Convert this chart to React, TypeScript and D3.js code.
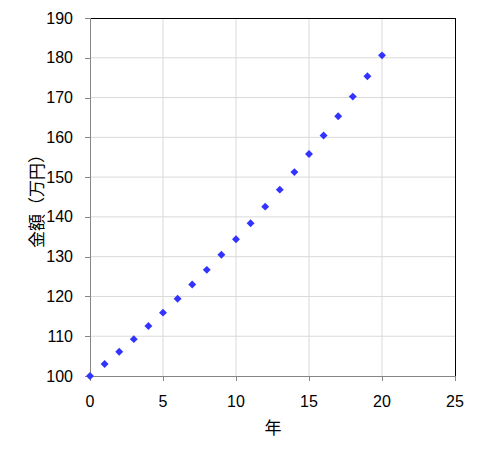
import React from "react";
import * as d3 from "d3";

const years = [0, 1, 2, 3, 4, 5, 6, 7, 8, 9, 10, 11, 12, 13, 14, 15, 16, 17, 18, 19, 20];
const amounts = [100, 103, 106.09, 109.27, 112.55, 115.93, 119.41, 122.99, 126.68, 130.48, 134.39, 138.42, 142.58, 146.85, 151.26, 155.8, 160.47, 165.28, 170.24, 175.35, 180.61];
const xTicks = [0, 5, 10, 15, 20, 25];
const yTicks = [100, 110, 120, 130, 140, 150, 160, 170, 180, 190];
const xTitle = "年";
const yTitle = "金額（万円）";

export default function App() {
  const W = 480, H = 456;
  const L = 90, R = 455, T = 18, B = 376;
  const x = d3.scaleLinear().domain([0, 25]).range([L, R]);
  const y = d3.scaleLinear().domain([100, 190]).range([B, T]);
  const font = "'Liberation Sans', 'DejaVu Sans', sans-serif";
  const diamond = d3.symbol().type(d3.symbolDiamond2).size(40)();
  return (
    <svg width={W} height={H} style={{ position: "absolute", left: 0, top: 0, background: "#fff" }}>
      <rect x={0} y={0} width={W} height={H} fill="#fff" />
      {xTicks.slice(1, -1).map((t) => (
        <line key={"gx" + t} x1={x(t)} x2={x(t)} y1={T} y2={B} stroke="#d9d9d9" strokeWidth={1} />
      ))}
      {yTicks.slice(1, -1).map((t) => (
        <line key={"gy" + t} x1={L} x2={R} y1={y(t)} y2={y(t)} stroke="#d9d9d9" strokeWidth={1} />
      ))}
      <line x1={L} x2={R} y1={T + 0.5} y2={T + 0.5} stroke="#000" />
      <line x1={R + 0.5} x2={R + 0.5} y1={T} y2={B} stroke="#000" />
      <line x1={L + 0.5} x2={L + 0.5} y1={T} y2={B + 5} stroke="#868686" />
      <line x1={L - 5} x2={R} y1={B + 0.5} y2={B + 0.5} stroke="#868686" />
      {yTicks.map((t) => (
        <g key={"yt" + t}>
          <line x1={L - 5} x2={L} y1={Math.round(y(t)) + 0.5} y2={Math.round(y(t)) + 0.5} stroke="#868686" />
          <text x={73} y={y(t)} dy="0.35em" textAnchor="end" fontFamily={font} fontSize={16} fill="#000">{t}</text>
        </g>
      ))}
      {xTicks.map((t) => (
        <g key={"xt" + t}>
          <line x1={Math.round(x(t)) + 0.5} x2={Math.round(x(t)) + 0.5} y1={B} y2={B + 5} stroke="#868686" />
          <text x={x(t)} y={401} dy="0.35em" textAnchor="middle" fontFamily={font} fontSize={16} fill="#000">{t}</text>
        </g>
      ))}
      {years.map((yr, i) => (
        <path key={"p" + yr} d={diamond as string} transform={`translate(${x(yr)},${y(amounts[i])})`} fill="#3333ff" />
      ))}
      <text x={273} y={428} dy="0.35em" textAnchor="middle" fontFamily="'Noto Sans CJK JP', sans-serif" fontSize={17} fill="#000">{xTitle}</text>
      <text transform={`translate(37,197) rotate(-90)`} dy="0.35em" textAnchor="middle" fontFamily="'Noto Sans CJK JP', sans-serif" fontSize={17} fill="#000">{yTitle}</text>
    </svg>
  );
}
